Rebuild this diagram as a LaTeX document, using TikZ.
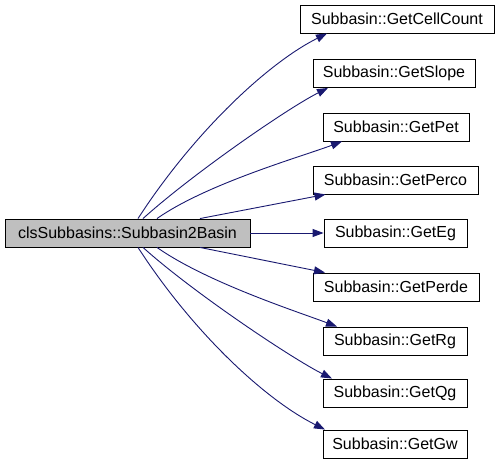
\documentclass[tikz,border=0pt]{standalone}
\usepackage{fontspec}
\setmainfont{Liberation Sans}
\usetikzlibrary{arrows.meta}
\definecolor{edgeblue}{HTML}{191970}
\definecolor{mainfill}{HTML}{BFBFBF}
\tikzset{
  fnbox/.style={draw=black, line width=0.9pt, fill=white, inner sep=0pt,
    minimum height=28pt, font=\fontsize{16}{19}\selectfont},
  mainbox/.style={fnbox, fill=mainfill},
  calledge/.style={draw=edgeblue, line width=0.9pt,
    -{Triangle[length=11pt,width=8pt]}}
}
\begin{document}
\begin{tikzpicture}[x=1pt,y=-1pt]
\useasboundingbox (0,0) rectangle (499,465);
\node[mainbox, minimum width=245pt] (main) at (127.5,233) {clsSubbasins::Subbasin2Basin};
\node[fnbox, minimum width=194pt] (cc) at (397,19) {Subbasin::GetCellCount};
\node[fnbox, minimum width=162pt] (slope) at (394,73.5) {Subbasin::GetSlope};
\node[fnbox, minimum width=146pt] (pet) at (396,127) {Subbasin::GetPet};
\node[fnbox, minimum width=165pt] (perco) at (395.5,180) {Subbasin::GetPerco};
\node[fnbox, minimum width=143pt] (eg) at (395.5,233) {Subbasin::GetEg};
\node[fnbox, minimum width=166pt] (perde) at (396,287) {Subbasin::GetPerde};
\node[fnbox, minimum width=144pt] (rg) at (395,341) {Subbasin::GetRg};
\node[fnbox, minimum width=144pt] (qg) at (395,393) {Subbasin::GetQg};
\node[fnbox, minimum width=144pt] (gw) at (395,444) {Subbasin::GetGw};

\draw[calledge] ([xshift=10.5pt]main.north) .. controls +(55,-85) and +(-60,30) .. ([xshift=-70pt]cc.south);
\draw[calledge] ([xshift=15.5pt]main.north) .. controls +(50,-45) and +(-40,20) .. ([xshift=-66pt]slope.south);
\draw[calledge] ([xshift=29.5pt]main.north) .. controls +(50,-35) and +(-40,15) .. ([xshift=-54pt]pet.south);
\draw[calledge] ([xshift=72.5pt]main.north) -- ([xshift=-70pt]perco.south);
\draw[calledge] (main.east) -- (eg.west);
\draw[calledge] ([xshift=72.5pt]main.south) -- ([xshift=-71pt]perde.north);
\draw[calledge] ([xshift=29.5pt]main.south) .. controls +(50,35) and +(-40,-15) .. ([xshift=-58pt]rg.north);
\draw[calledge] ([xshift=15.5pt]main.south) .. controls +(50,45) and +(-40,-20) .. ([xshift=-63pt]qg.north);
\draw[calledge] ([xshift=10.5pt]main.south) .. controls +(55,85) and +(-60,-30) .. ([xshift=-70pt]gw.north);
\end{tikzpicture}
\end{document}
